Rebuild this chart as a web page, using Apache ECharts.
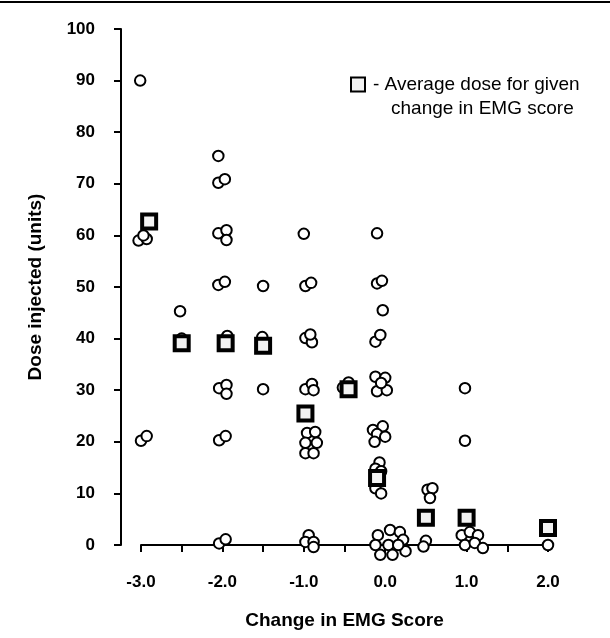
<!DOCTYPE html>
<html>
<head>
<meta charset="utf-8">
<script src="https://cdn.jsdelivr.net/npm/echarts@6/dist/echarts.min.js"></script>
<style>
  html, body { margin: 0; padding: 0; background: #fff; }
  #chart { width: 610px; height: 638px; }
</style>
</head>
<body>
<div id="chart"></div>
<script>
// Individual patients: change in EMG score (x) and dose injected in units (y)
const emgChange = [
  -3.01, -3.03, -2.93, -2.97, -3.0, -2.93,
  -2.52, -2.5,
  -2.05, -2.05, -1.97, -2.05, -1.95, -1.95, -2.05, -1.97, -1.94, -2.04, -1.95, -1.95, -2.04, -1.96, -2.04, -1.96,
  -1.5, -1.51, -1.5,
  -1.0, -0.98, -0.91, -0.98, -0.9, -0.92, -0.98, -0.9, -0.88, -0.96, -0.86, -0.84, -0.98, -0.98, -0.88, -0.94, -0.98, -0.88, -0.88,
  -0.52, -0.45,
  -0.1, -0.1, -0.04, -0.03, -0.12, -0.06, -0.12, 0.0, -0.1, 0.02, -0.05, -0.15, -0.03, -0.1, 0.0, -0.13,
  -0.07, -0.12, -0.05, -0.12, -0.05, -0.09, 0.06, 0.18, -0.12, 0.04, 0.22, -0.06, 0.09, 0.25, 0.16,
  0.52, 0.58, 0.55, 0.5, 0.47,
  0.98, 0.98, 0.94, 1.04, 1.14, 0.98, 1.1, 1.2,
  2.0
];
const doseUnits = [
  90, 59, 59.3, 60, 20.2, 21.1,
  45.3, 40,
  75.4, 70.2, 70.9, 60.4, 61, 59.1, 50.4, 51, 40.5, 30.4, 31, 29.3, 20.3, 21.1, 0.3, 1.1,
  50.2, 40.3, 30.2,
  60.3, 50.2, 50.8, 40.1, 39.3, 40.8, 30.2, 31.2, 30, 21.7, 21.9, 19.8, 19.8, 17.8, 17.8, 1.9, 0.6, 0.6, -0.4,
  30.5, 31.5,
  60.4, 50.7, 51.2, 45.5, 39.4, 40.7, 32.6, 32.4, 29.8, 30, 31.4, 22.3, 23, 21.5, 21, 20,
  16, 14.8, 14.3, 11, 10, 1.9, 2.9, 2.5, 0, 0, 1, -1.9, -1.9, -1.2, 0,
  10.7, 11, 9.1, 0.8, -0.3,
  30.4, 20.2, 1.9, 2.5, 1.9, 0, 0.4, -0.6,
  0
];

// Average dose for each change in EMG score
const avgChange = [-2.9, -2.5, -1.96, -1.5, -0.98, -0.45, -0.1, 0.5, 1.0, 2.0];
const avgDose = [62.7, 39.1, 39.1, 38.6, 25.5, 30.2, 13, 5.3, 5.3, 3.3];

const legendLines = ['- Average dose for given', 'change in EMG score'];

const chart = echarts.init(document.getElementById('chart'));

const patientPoints = emgChange.map((x, i) => [x, doseUnits[i]]);
const averagePoints = avgChange.map((x, i) => [x, avgDose[i]]);

const fontFamily = '"Liberation Sans", Arial, Helvetica, sans-serif';

const option = {
  animation: false,
  backgroundColor: '#fff',
  textStyle: { fontFamily: fontFamily, color: '#000' },
  grid: { left: 141, right: 62, top: 29, bottom: 93 },
  legend: {
    left: 350,
    top: 75,
    padding: 0,
    data: ['avg'],
    itemWidth: 14,
    itemHeight: 14,
    selectedMode: false,
    formatter: () => '{a|' + legendLines[0] + '}\n{b|' + legendLines[1] + '}',
    textStyle: {
      padding: [24, 0, 0, 3],
      rich: {
        a: { fontSize: 19, lineHeight: 24, fontFamily: fontFamily, color: '#000' },
        b: { fontSize: 19, lineHeight: 24, fontFamily: fontFamily, color: '#000', padding: [0, 0, 0, 18] }
      }
    }
  },
  xAxis: {
    type: 'value',
    min: -3,
    max: 2,
    interval: 0.5,
    name: 'Change in EMG Score',
    nameLocation: 'middle',
    nameGap: 66,
    nameTextStyle: { fontSize: 19, fontWeight: 'bold', color: '#000', fontFamily: fontFamily },
    axisLine: { show: true, onZero: false, lineStyle: { color: '#000', width: 2 } },
    axisTick: { show: true, length: 7, lineStyle: { color: '#000', width: 2 } },
    axisLabel: {
      margin: 29,
      fontSize: 17,
      fontWeight: 'bold',
      color: '#000',
      formatter: v => (Math.abs(v - Math.round(v)) < 1e-9 ? v.toFixed(1) : '')
    },
    splitLine: { show: false }
  },
  yAxis: {
    type: 'value',
    min: 0,
    max: 100,
    interval: 10,
    offset: 20,
    name: 'Dose injected (units)',
    nameLocation: 'middle',
    nameGap: 76,
    nameTextStyle: { fontSize: 19, fontWeight: 'bold', color: '#000', fontFamily: fontFamily },
    axisLine: { show: true, onZero: false, lineStyle: { color: '#000', width: 2 } },
    axisTick: { show: true, length: 7, lineStyle: { color: '#000', width: 2 } },
    axisLabel: { margin: 26, fontSize: 17, fontWeight: 'bold', color: '#000' },
    splitLine: { show: false }
  },
  series: [
    {
      name: 'patients',
      type: 'scatter',
      clip: false,
      symbol: 'circle',
      symbolSize: 10.5,
      itemStyle: { color: '#fff', borderColor: '#000', borderWidth: 2, opacity: 1 },
      data: patientPoints
    },
    {
      name: 'avg',
      type: 'scatter',
      clip: false,
      symbol: 'rect',
      symbolSize: 14,
      itemStyle: { color: '#f2f2f2', borderColor: '#000', borderWidth: 4, opacity: 1 },
      data: averagePoints
    }
  ],
  graphic: [
    {
      type: 'line',
      shape: { x1: 0, y1: 2, x2: 610, y2: 2 },
      style: { stroke: '#000', lineWidth: 2 }
    }
  ]
};

chart.setOption(option);
</script>
</body>
</html>
